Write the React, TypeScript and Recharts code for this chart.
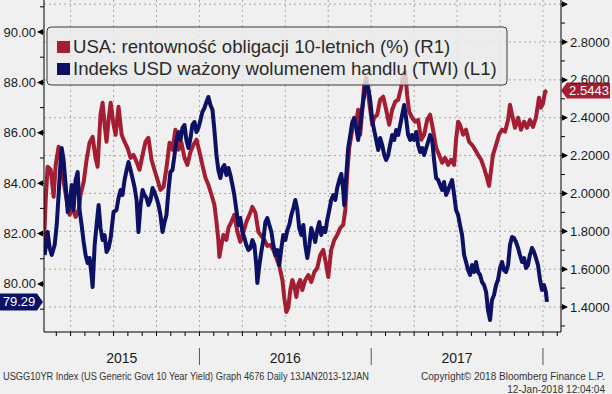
import { LineChart, Line, XAxis, YAxis, ReferenceLine, ReferenceDot } from "recharts";

// US 10Y yield (right axis), time in decimal years
const yieldTime = [
  2015.095, 2015.105, 2015.116, 2015.134, 2015.151, 2015.163, 2015.18, 2015.192, 2015.209, 2015.227,
  2015.244, 2015.262, 2015.279, 2015.297, 2015.308, 2015.326, 2015.343, 2015.36, 2015.378, 2015.395,
  2015.407, 2015.424, 2015.436, 2015.448, 2015.459, 2015.471, 2015.483, 2015.5, 2015.512, 2015.529,
  2015.547, 2015.564, 2015.581, 2015.599, 2015.616, 2015.634, 2015.651, 2015.669, 2015.686, 2015.703,
  2015.721, 2015.738, 2015.756, 2015.773, 2015.791, 2015.808, 2015.826, 2015.843, 2015.86, 2015.878,
  2015.895, 2015.913, 2015.93, 2015.948, 2015.965, 2015.983, 2016.0, 2016.017, 2016.035, 2016.052,
  2016.07, 2016.087, 2016.099, 2016.11, 2016.116, 2016.128, 2016.14, 2016.157, 2016.169, 2016.186,
  2016.203, 2016.221, 2016.238, 2016.256, 2016.273, 2016.291, 2016.308, 2016.326, 2016.343, 2016.36,
  2016.378, 2016.395, 2016.413, 2016.43, 2016.448, 2016.465, 2016.483, 2016.494, 2016.506, 2016.517,
  2016.529, 2016.541, 2016.552, 2016.564, 2016.576, 2016.587, 2016.599, 2016.616, 2016.634, 2016.651,
  2016.669, 2016.686, 2016.703, 2016.721, 2016.738, 2016.75, 2016.767, 2016.785, 2016.802, 2016.82,
  2016.837, 2016.849, 2016.86, 2016.872, 2016.89, 2016.901, 2016.913, 2016.924, 2016.936, 2016.948,
  2016.959, 2016.971, 2016.983, 2016.994, 2017.006, 2017.017, 2017.035, 2017.052, 2017.07, 2017.087,
  2017.105, 2017.122, 2017.14, 2017.157, 2017.174, 2017.186, 2017.198, 2017.209, 2017.221, 2017.238,
  2017.256, 2017.273, 2017.291, 2017.308, 2017.326, 2017.343, 2017.36, 2017.378, 2017.395, 2017.413,
  2017.43, 2017.448, 2017.465, 2017.483, 2017.494, 2017.506, 2017.517, 2017.535, 2017.552, 2017.57,
  2017.587, 2017.605, 2017.622, 2017.64, 2017.657, 2017.674, 2017.686, 2017.698, 2017.709, 2017.727,
  2017.744, 2017.762, 2017.779, 2017.797, 2017.808, 2017.82, 2017.837, 2017.855, 2017.872, 2017.89,
  2017.907, 2017.924, 2017.942, 2017.959, 2017.977, 2017.988, 2018.0, 2018.012, 2018.023,
];
const yieldValue = [
  1.744, 1.966, 2.141, 2.125, 1.982, 2.151, 2.247, 2.188, 2.061, 1.966,
  1.887, 1.924, 1.876, 1.913, 1.993, 2.061, 2.178, 2.268, 2.299, 2.188,
  2.141, 2.416, 2.479, 2.363, 2.273, 2.389, 2.479, 2.363, 2.31, 2.458,
  2.31, 2.273, 2.241, 2.188, 2.204, 2.167, 2.125, 2.204, 2.273, 2.294,
  2.178, 2.125, 2.072, 2.019, 2.035, 2.135, 2.268, 2.231, 2.337, 2.231,
  2.268, 2.188, 2.151, 2.22, 2.257, 2.284, 2.22, 2.151, 2.083, 2.046,
  1.993, 1.94, 1.85, 1.754, 1.665, 1.728, 1.781, 1.754, 1.818, 1.85,
  1.887, 1.797, 1.744, 1.797, 1.85, 1.887, 1.929, 1.897, 1.797, 1.776,
  1.754, 1.723, 1.728, 1.702, 1.659, 1.617, 1.543, 1.448, 1.374, 1.395,
  1.49, 1.543, 1.511, 1.453, 1.522, 1.543, 1.49, 1.543, 1.569, 1.532,
  1.585, 1.606, 1.675, 1.702, 1.622, 1.559, 1.702, 1.754, 1.781, 1.818,
  1.834, 1.913, 2.098, 2.241, 2.337, 2.4, 2.379, 2.442, 2.31, 2.442,
  2.575, 2.612, 2.522, 2.442, 2.363, 2.4, 2.416, 2.495, 2.511, 2.442,
  2.363, 2.442, 2.485, 2.495, 2.559, 2.628, 2.643, 2.522, 2.432, 2.4,
  2.379, 2.389, 2.284, 2.31, 2.389, 2.416, 2.337, 2.241, 2.204, 2.162,
  2.188, 2.151, 2.178, 2.151, 2.284, 2.379, 2.363, 2.31, 2.337, 2.273,
  2.257, 2.231, 2.204, 2.178, 2.135, 2.083, 2.04, 2.125, 2.204, 2.257,
  2.31, 2.337, 2.326, 2.389, 2.469, 2.416, 2.347, 2.4, 2.337, 2.379,
  2.347, 2.389, 2.352, 2.4, 2.506, 2.453, 2.474, 2.537, 2.5443,
];

// trade weighted USD index (left axis)
const twiTime = [
  2015.099, 2015.11, 2015.116, 2015.128, 2015.14, 2015.157, 2015.169, 2015.18, 2015.192, 2015.198,
  2015.209, 2015.221, 2015.233, 2015.244, 2015.256, 2015.267, 2015.279, 2015.291, 2015.302, 2015.314,
  2015.326, 2015.337, 2015.349, 2015.36, 2015.372, 2015.378, 2015.39, 2015.401, 2015.413, 2015.424,
  2015.436, 2015.448, 2015.459, 2015.471, 2015.483, 2015.5, 2015.517, 2015.529, 2015.541, 2015.552,
  2015.564, 2015.576, 2015.587, 2015.599, 2015.61, 2015.622, 2015.634, 2015.645, 2015.657, 2015.669,
  2015.68, 2015.692, 2015.703, 2015.715, 2015.727, 2015.738, 2015.75, 2015.762, 2015.773, 2015.785,
  2015.797, 2015.808, 2015.82, 2015.831, 2015.843, 2015.855, 2015.866, 2015.878, 2015.89, 2015.901,
  2015.913, 2015.924, 2015.936, 2015.948, 2015.959, 2015.971, 2015.983, 2015.994, 2016.006, 2016.017,
  2016.029, 2016.041, 2016.052, 2016.064, 2016.076, 2016.087, 2016.099, 2016.11, 2016.122, 2016.134,
  2016.145, 2016.157, 2016.169, 2016.18, 2016.192, 2016.203, 2016.215, 2016.227, 2016.238, 2016.25,
  2016.262, 2016.273, 2016.285, 2016.297, 2016.308, 2016.32, 2016.331, 2016.337, 2016.349, 2016.36,
  2016.372, 2016.384, 2016.395, 2016.407, 2016.419, 2016.43, 2016.442, 2016.454, 2016.465, 2016.477,
  2016.488, 2016.5, 2016.512, 2016.523, 2016.535, 2016.547, 2016.558, 2016.57, 2016.581, 2016.593,
  2016.605, 2016.616, 2016.628, 2016.64, 2016.651, 2016.663, 2016.674, 2016.686, 2016.698, 2016.709,
  2016.721, 2016.733, 2016.744, 2016.756, 2016.767, 2016.779, 2016.791, 2016.802, 2016.814, 2016.826,
  2016.837, 2016.843, 2016.855, 2016.866, 2016.878, 2016.89, 2016.901, 2016.913, 2016.924, 2016.936,
  2016.948, 2016.959, 2016.971, 2016.983, 2016.994, 2017.006, 2017.017, 2017.029, 2017.041, 2017.052,
  2017.064, 2017.076, 2017.087, 2017.099, 2017.11, 2017.122, 2017.134, 2017.145, 2017.157, 2017.169,
  2017.18, 2017.192, 2017.203, 2017.215, 2017.227, 2017.238, 2017.25, 2017.262, 2017.273, 2017.285,
  2017.297, 2017.308, 2017.32, 2017.331, 2017.343, 2017.355, 2017.366, 2017.378, 2017.39, 2017.401,
  2017.413, 2017.424, 2017.436, 2017.448, 2017.459, 2017.471, 2017.483, 2017.494, 2017.506, 2017.517,
  2017.529, 2017.541, 2017.552, 2017.564, 2017.576, 2017.587, 2017.599, 2017.61, 2017.622, 2017.634,
  2017.645, 2017.657, 2017.669, 2017.68, 2017.692, 2017.703, 2017.715, 2017.727, 2017.738, 2017.75,
  2017.762, 2017.773, 2017.785, 2017.797, 2017.808, 2017.82, 2017.831, 2017.843, 2017.855, 2017.866,
  2017.878, 2017.89, 2017.901, 2017.913, 2017.924, 2017.936, 2017.948, 2017.959, 2017.971, 2017.983,
  2017.994, 2018.006, 2018.017, 2018.023,
];
const twiValue = [
  81.151, 81.746, 82.063, 81.429, 81.151, 81.548, 82.341, 83.532, 84.921, 85.397,
  84.921, 83.929, 82.857, 83.135, 83.929, 82.937, 84.127, 84.444, 82.937, 82.341,
  81.667, 81.151, 80.833, 81.032, 80.357, 79.881, 81.548, 82.341, 83.135, 82.222,
  81.746, 81.944, 81.27, 81.429, 81.825, 82.857, 82.937, 83.413, 83.73, 83.532,
  84.127, 84.524, 84.841, 84.524, 84.206, 83.849, 83.333, 82.063, 83.135, 83.73,
  83.532, 83.413, 83.135, 83.333, 83.81, 83.651, 83.413, 83.135, 82.738, 82.063,
  82.46, 82.738, 83.73, 84.444, 84.524, 85.119, 85.714, 86.032, 85.714, 86.19,
  86.31, 85.714, 85.397, 85.794, 86.31, 86.429, 86.032, 86.19, 86.508, 86.825,
  86.984, 87.222, 87.421, 87.103, 86.905, 86.111, 85.119, 84.524, 84.206, 84.603,
  84.722, 84.325, 84.603, 84.325, 83.929, 83.532, 82.937, 82.341, 82.619, 82.063,
  81.825, 81.548, 81.349, 81.429, 81.746, 81.548, 80.754, 80.04, 80.754, 81.27,
  81.746, 82.46, 82.619, 82.341, 82.063, 81.548, 81.151, 81.349, 80.754, 81.429,
  81.944, 81.746, 82.143, 82.341, 82.738, 83.016, 83.333, 82.937, 82.222, 81.944,
  82.341, 81.548, 81.032, 81.548, 82.222, 81.944, 81.667, 82.143, 82.46, 81.944,
  82.222, 82.063, 82.54, 82.937, 83.333, 83.532, 83.333, 83.81, 84.127, 84.365,
  83.73, 83.135, 84.325, 85.397, 85.913, 86.429, 86.587, 86.19, 85.714, 86.31,
  86.984, 87.5, 88.016, 87.778, 87.302, 86.508, 86.111, 85.714, 85.317, 85.794,
  85.516, 85.119, 84.921, 85.119, 85.516, 85.913, 85.714, 86.111, 85.913, 86.31,
  86.706, 87.103, 86.587, 85.913, 85.714, 85.913, 85.714, 86.032, 85.516, 85.238,
  85.397, 85.119, 85.397, 85.635, 85.913, 85.714, 84.921, 84.206, 84.127, 83.929,
  83.73, 84.048, 83.532, 83.73, 83.929, 84.127, 83.532, 82.937, 82.738, 82.341,
  81.944, 81.151, 80.873, 80.556, 80.357, 80.754, 80.476, 80.873, 80.476, 80.357,
  80.079, 79.96, 79.683, 78.968, 78.571, 79.365, 79.563, 79.96, 80.159, 80.635,
  80.873, 80.556, 80.476, 80.754, 81.548, 81.865, 81.825, 81.667, 81.429, 81.151,
  80.873, 81.032, 80.635, 80.754, 81.151, 81.429, 81.27, 81.032, 80.754, 80.159,
  79.762, 79.96, 79.683, 79.29,
];

const seriesNames = [
  "USA: rentowność obligacji 10-letnich (%) (R1)",
  "Indeks USD ważony wolumenem handlu (TWI) (L1)",
];
const yearLabels = [2015, 2016, 2017];
const leftTicks = [79, 80, 81, 82, 83, 84, 85, 86, 87, 88, 89, 90, 91];
const rightTicks = [1.3, 1.4, 1.5, 1.6, 1.7, 1.8, 1.9, 2.0, 2.1, 2.2, 2.3, 2.4, 2.5, 2.6, 2.7, 2.8, 2.9, 3.0];
const gridY = [1.4, 1.6, 1.8, 2.0, 2.2, 2.4, 2.6, 2.8, 3.0];
const gridX = [2015.25, 2015.5, 2015.75, 2016, 2016.25, 2016.5, 2016.75, 2017, 2017.25, 2017.5, 2017.75, 2018];

const RED = "#a31d33";
const BLUE = "#0d1163";
const FONT = "'Liberation Sans', Arial, sans-serif";
const X_DOMAIN = [2015.095, 2018.105];

const yieldData = yieldTime.map((t, i) => ({ t, v: yieldValue[i] }));
const twiData = twiTime.map((t, i) => ({ t, v: twiValue[i] }));

const labelPos = yearLabels.map(
  (y) => (Math.max(y, X_DOMAIN[0]) + Math.min(y + 1, X_DOMAIN[1])) / 2
);
const monthTicks: number[] = [];
[2015, 2016, 2017, 2018].forEach((y) => {
  for (let m = 0; m < 12; m++) {
    const t = y + m / 12;
    if (t > X_DOMAIN[0] && t < X_DOMAIN[1]) monthTicks.push(t);
  }
});
const xTicks = Array.from(new Set([...monthTicks, ...labelPos])).sort((a, b) => a - b);

const isMonth = (v: number) => Math.abs(v * 12 - Math.round(v * 12)) < 1e-6;

function XTick(props: any) {
  const { x, y, payload } = props;
  const v = payload.value as number;
  const li = labelPos.findIndex((p) => Math.abs(p - v) < 1e-6);
  return (
    <g>
      {isMonth(v) && <line x1={x} x2={x} y1={y} y2={y + 4} stroke="#000" />}
      {Math.abs(v - Math.round(v)) < 1e-6 && (
        <line x1={x} x2={x} y1={y + 16} y2={y + 33} stroke="#555" />
      )}
      {li >= 0 && (
        <text x={x} y={y + 31} textAnchor="middle" fontSize={14} fill="#1a1a1a">
          {yearLabels[li]}
        </text>
      )}
    </g>
  );
}

function LeftTick(props: any) {
  const { x, y, payload } = props;
  const v = payload.value as number;
  if (Math.round(v) % 2 !== 0) {
    return <line x1={x - 4} x2={x} y1={y} y2={y} stroke="#000" />;
  }
  return (
    <g>
      <polygon points={`${x - 7},${y} ${x - 1},${y - 3} ${x - 1},${y + 3}`} fill="#000" />
      <line x1={x - 2} x2={x} y1={y} y2={y} stroke="#000" />
      <text x={x - 8} y={y + 4.5} textAnchor="end" fontSize={13} fill="#1a1a1a">
        {v.toFixed(2)}
      </text>
    </g>
  );
}

function RightTick(props: any) {
  const { x, y, payload } = props;
  const v = payload.value as number;
  if (Math.round(v * 10) % 2 !== 0) {
    return <line x1={x} x2={x + 4} y1={y} y2={y} stroke="#000" />;
  }
  return (
    <g>
      <polygon points={`${x + 7},${y} ${x + 1},${y - 3} ${x + 1},${y + 3}`} fill="#000" />
      <line x1={x} x2={x + 2} y1={y} y2={y} stroke="#000" />
      {v < 2.95 && (
        <text x={x + 9} y={y + 4.5} textAnchor="start" fontSize={13} fill="#1a1a1a">
          {v.toFixed(4)}
        </text>
      )}
    </g>
  );
}

function RedTag(props: any) {
  const cy = props.cy as number;
  return (
    <g>
      <polygon
        points={`561,${cy} 567,${cy - 8} 610,${cy - 8} 610,${cy + 8} 567,${cy + 8}`}
        fill={RED}
      />
      <text x={589} y={cy + 4.5} textAnchor="middle" fontSize={13} fill="#fff">
        {yieldValue[yieldValue.length - 1].toFixed(4)}
      </text>
    </g>
  );
}

function BlueTag(props: any) {
  const cy = props.cy as number;
  return (
    <g>
      <polygon
        points={`0,${cy - 8.5} 37,${cy - 8.5} 43,${cy} 37,${cy + 8.5} 0,${cy + 8.5}`}
        fill={BLUE}
      />
      <text x={19} y={cy + 4.5} textAnchor="middle" fontSize={13} fill="#fff">
        {twiValue[twiValue.length - 1].toFixed(2)}
      </text>
    </g>
  );
}

export default function App() {
  return (
    <div
      style={{
        position: "absolute",
        left: 0,
        top: 0,
        width: 612,
        height: 394,
        background: "#f0f0f0",
        fontFamily: FONT,
      }}
    >
      <LineChart
        width={612}
        height={394}
        margin={{ top: 0, right: 0, bottom: 0, left: 0 }}
        style={{ fontFamily: FONT }}
      >
        <XAxis
          dataKey="t"
          type="number"
          domain={X_DOMAIN}
          allowDataOverflow
          ticks={xTicks}
          interval={0}
          tick={<XTick />}
          tickLine={false}
          tickSize={0}
          tickMargin={0}
          height={62}
          axisLine={{ stroke: "#000" }}
        />
        <YAxis
          yAxisId="L"
          orientation="left"
          type="number"
          domain={[78.095, 91.27]}
          allowDataOverflow
          ticks={leftTicks}
          interval={0}
          tick={<LeftTick />}
          tickLine={false}
          tickSize={0}
          tickMargin={0}
          width={44}
          axisLine={{ stroke: "#000" }}
        />
        <YAxis
          yAxisId="R"
          orientation="right"
          type="number"
          domain={[1.268, 3.022]}
          allowDataOverflow
          ticks={rightTicks}
          interval={0}
          tick={<RightTick />}
          tickLine={false}
          tickSize={0}
          tickMargin={0}
          width={51}
          axisLine={{ stroke: "#000" }}
        />
        {gridY.map((g) => (
          <ReferenceLine key={"gy" + g} yAxisId="R" y={g} stroke="#a8a8a8" strokeDasharray="2 3" />
        ))}
        {gridX.map((g) => (
          <ReferenceLine key={"gx" + g} yAxisId="L" x={g} stroke="#a8a8a8" strokeDasharray="2 3" />
        ))}
        <Line
          yAxisId="R"
          data={yieldData}
          dataKey="v"
          type="linear"
          stroke={RED}
          strokeWidth={4}
          strokeLinejoin="round"
          dot={false}
          isAnimationActive={false}
        />
        <Line
          yAxisId="L"
          data={twiData}
          dataKey="v"
          type="linear"
          stroke={BLUE}
          strokeWidth={4}
          strokeLinejoin="round"
          dot={false}
          isAnimationActive={false}
        />
        <ReferenceDot
          yAxisId="R"
          x={yieldTime[yieldTime.length - 1]}
          y={yieldValue[yieldValue.length - 1]}
          shape={<RedTag />}
        />
        <ReferenceDot
          yAxisId="L"
          x={twiTime[twiTime.length - 1]}
          y={twiValue[twiValue.length - 1]}
          shape={<BlueTag />}
        />
      </LineChart>
      <svg
        width={612}
        height={394}
        style={{ position: "absolute", left: 0, top: 0, pointerEvents: "none", fontFamily: FONT }}
      >
        <rect x={47} y={27} width={460} height={58} rx={4} fill="rgba(234,234,234,0.82)" stroke="#3a3a3a" />
        <rect x={57} y={41} width={13} height={12} fill={RED} />
        <rect x={57} y={63} width={13} height={12} fill={BLUE} />
        <text x={73} y={53} fontSize={18.6} fill="#2a2a2a">
          {seriesNames[0]}
        </text>
        <text x={73} y={75} fontSize={18.6} fill="#2a2a2a">
          {seriesNames[1]}
        </text>
        <text x={3} y={380} fontSize={10} fill="#333" textLength={366} lengthAdjust="spacingAndGlyphs">
          USGG10YR Index (US Generic Govt 10 Year Yield) Graph 4676  Daily 13JAN2013-12JAN
        </text>
        <text x={605} y={380} fontSize={10} fill="#333" textAnchor="end">
          Copyright© 2018 Bloomberg Finance L.P.
        </text>
        <text x={605} y={393} fontSize={10} fill="#333" textAnchor="end">
          12-Jan-2018 12:04:04
        </text>
      </svg>
    </div>
  );
}
